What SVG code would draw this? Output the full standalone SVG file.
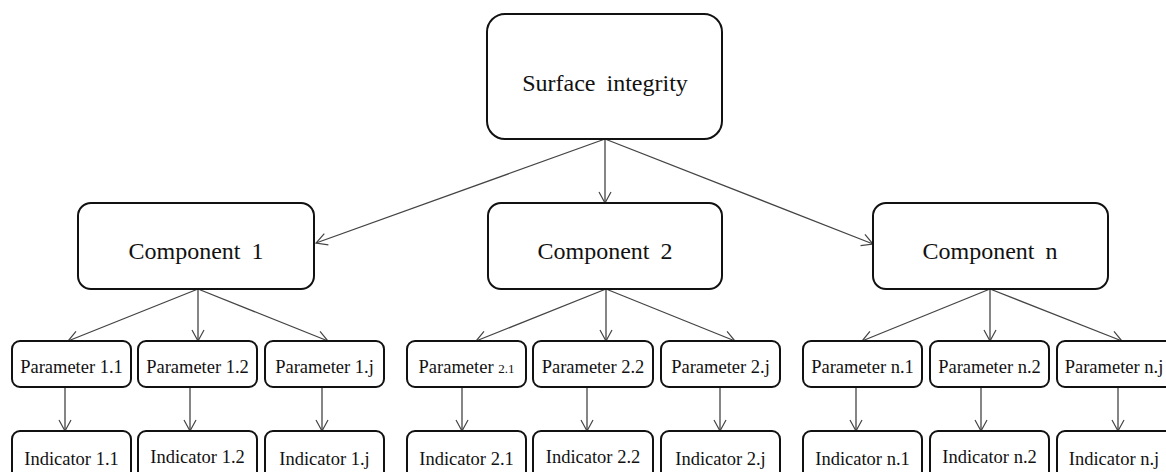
<svg xmlns="http://www.w3.org/2000/svg" width="1166" height="472" viewBox="0 0 1166 472">
<defs>
<marker id="arr" markerUnits="userSpaceOnUse" markerWidth="14" markerHeight="14" refX="12" refY="7" orient="auto">
<path d="M1,1 L12,7 L1,13" fill="none" stroke="#444" stroke-width="1.2"/>
</marker>
<style>
.box{fill:#fff;stroke:#111;stroke-width:2}
.t{font-family:"Liberation Serif","Times New Roman",serif;fill:#111;text-anchor:middle}
.big{font-size:24px;word-spacing:5px}
.sm{font-size:18.5px}
.c line{stroke:#444;stroke-width:1.3;marker-end:url(#arr)}
</style>
</defs>
<rect width="1166" height="472" fill="#fff"/>
<g class="c" id="connectors">
<line x1="605" y1="139" x2="316" y2="243"/>
<line x1="605" y1="139" x2="605" y2="203"/>
<line x1="605" y1="139" x2="873" y2="244"/>
<line x1="198" y1="289" x2="68" y2="341"/>
<line x1="198" y1="289" x2="198" y2="341"/>
<line x1="198" y1="289" x2="328" y2="341"/>
<line x1="606" y1="289" x2="476" y2="341"/>
<line x1="606" y1="289" x2="606" y2="341"/>
<line x1="606" y1="289" x2="735" y2="341"/>
<line x1="990" y1="289" x2="862" y2="341"/>
<line x1="990" y1="289" x2="990" y2="341"/>
<line x1="990" y1="289" x2="1122" y2="341"/>
<line x1="65" y1="387" x2="65" y2="431"/>
<line x1="190" y1="387" x2="190" y2="431"/>
<line x1="322" y1="387" x2="322" y2="431"/>
<line x1="462" y1="387" x2="462" y2="431"/>
<line x1="587" y1="387" x2="587" y2="431"/>
<line x1="720" y1="387" x2="720" y2="431"/>
<line x1="856" y1="387" x2="856" y2="431"/>
<line x1="981" y1="387" x2="981" y2="431"/>
<line x1="1118" y1="387" x2="1118" y2="431"/>
</g>
<g id="surface"><rect class="box" x="487" y="14" width="235" height="125" rx="18"/><text class="t big" x="605" y="91">Surface integrity</text></g>
<g id="comp1"><rect class="box" x="78" y="203" width="236" height="86" rx="13"/><text class="t big" x="196" y="259">Component 1</text></g>
<g id="comp2"><rect class="box" x="488" y="203" width="234" height="86" rx="13"/><text class="t big" x="605" y="259">Component 2</text></g>
<g id="compn"><rect class="box" x="873" y="203" width="235" height="86" rx="13"/><text class="t big" x="990" y="259">Component n</text></g>
<g id="p11"><rect class="box" x="12" y="341" width="119" height="46" rx="8"/><text class="t sm" x="71.5" y="373">Parameter 1.1</text></g>
<g id="p12"><rect class="box" x="138" y="341" width="119" height="46" rx="8"/><text class="t sm" x="197.5" y="373">Parameter 1.2</text></g>
<g id="p1j"><rect class="box" x="265" y="341" width="119" height="46" rx="8"/><text class="t sm" x="324.5" y="373">Parameter 1.j</text></g>
<g id="p21"><rect class="box" x="407" y="341" width="119" height="46" rx="8"/><text class="t sm" x="466.5" y="373">Parameter <tspan font-size="13px">2.1</tspan></text></g>
<g id="p22"><rect class="box" x="533" y="341" width="120" height="46" rx="8"/><text class="t sm" x="593" y="373">Parameter 2.2</text></g>
<g id="p2j"><rect class="box" x="661" y="341" width="119" height="46" rx="8"/><text class="t sm" x="720.5" y="373">Parameter 2.j</text></g>
<g id="pn1"><rect class="box" x="803" y="341" width="119" height="46" rx="8"/><text class="t sm" x="862.5" y="373">Parameter n.1</text></g>
<g id="pn2"><rect class="box" x="930" y="341" width="119" height="46" rx="8"/><text class="t sm" x="989.5" y="373">Parameter n.2</text></g>
<g id="pnj"><rect class="box" x="1057" y="341" width="120" height="46" rx="8"/><text class="t sm" x="1114" y="373">Parameter n.j</text></g>
<g id="i11"><rect class="box" x="12" y="431" width="119" height="60" rx="8"/><text class="t sm" x="71.5" y="465">Indicator 1.1</text></g>
<g id="i12"><rect class="box" x="138" y="431" width="119" height="60" rx="8"/><text class="t sm" x="197.5" y="463">Indicator 1.2</text></g>
<g id="i1j"><rect class="box" x="265" y="431" width="119" height="60" rx="8"/><text class="t sm" x="324.5" y="465">Indicator 1.j</text></g>
<g id="i21"><rect class="box" x="407" y="431" width="119" height="60" rx="8"/><text class="t sm" x="466.5" y="465">Indicator 2.1</text></g>
<g id="i22"><rect class="box" x="533" y="431" width="120" height="60" rx="8"/><text class="t sm" x="593" y="463">Indicator 2.2</text></g>
<g id="i2j"><rect class="box" x="661" y="431" width="119" height="60" rx="8"/><text class="t sm" x="720.5" y="465">Indicator 2.j</text></g>
<g id="in1"><rect class="box" x="803" y="431" width="119" height="60" rx="8"/><text class="t sm" x="862.5" y="465">Indicator n.1</text></g>
<g id="in2"><rect class="box" x="930" y="431" width="119" height="60" rx="8"/><text class="t sm" x="989.5" y="463">Indicator n.2</text></g>
<g id="inj"><rect class="box" x="1057" y="431" width="120" height="60" rx="8"/><text class="t sm" x="1114" y="465">Indicator n.j</text></g>
</svg>
